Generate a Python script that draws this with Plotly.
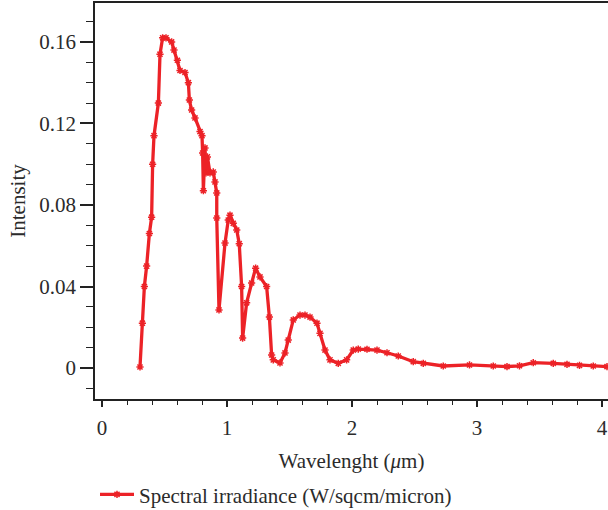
import plotly.graph_objects as go

wavelength = [0.304, 0.323, 0.339, 0.357, 0.379, 0.397, 0.405, 0.416, 0.451, 0.464, 0.485, 0.512,
              0.557, 0.576, 0.603, 0.624, 0.664, 0.691, 0.699, 0.717, 0.744, 0.784, 0.800, 0.805,
              0.811, 0.824, 0.832, 0.843, 0.864, 0.890, 0.904, 0.918, 0.918, 0.936, 0.984, 1.010,
              1.024, 1.050, 1.078, 1.098, 1.117, 1.125, 1.157, 1.197, 1.229, 1.264, 1.317, 1.339,
              1.357, 1.370, 1.424, 1.464, 1.490, 1.530, 1.584, 1.624, 1.664, 1.720, 1.744, 1.784,
              1.824, 1.890, 1.957, 2.010, 2.050, 2.120, 2.200, 2.280, 2.370, 2.490, 2.570, 2.730,
              2.940, 3.130, 3.240, 3.340, 3.450, 3.610, 3.720, 3.820, 3.930, 4.040, 4.100]
intensity = [0.0005, 0.022, 0.040, 0.050, 0.066, 0.074, 0.100, 0.114, 0.130, 0.154, 0.162, 0.162,
             0.160, 0.156, 0.151, 0.146, 0.145, 0.140, 0.1315, 0.1266, 0.1227, 0.116, 0.114, 0.1055,
             0.087, 0.108, 0.0957, 0.1036, 0.0957, 0.0962, 0.0913, 0.0859, 0.0736, 0.0285, 0.0613, 0.0726,
             0.075, 0.071, 0.0677, 0.061, 0.040, 0.0147, 0.032, 0.0417, 0.049, 0.0447, 0.040, 0.025,
             0.0064, 0.004, 0.0025, 0.0074, 0.0137, 0.0236, 0.026, 0.026, 0.025, 0.022, 0.017, 0.0088,
             0.004, 0.0023, 0.004, 0.0088, 0.0093, 0.0092, 0.0088, 0.0075, 0.0059, 0.0031, 0.0023, 0.001,
             0.0015, 0.001, 0.0007, 0.0011, 0.0026, 0.0023, 0.0018, 0.0013, 0.001, 0.0007, 0.0006]

x_ticks = [0, 1, 2, 3, 4]
y_ticks = [0, 0.04, 0.08, 0.12, 0.16]
y_ticklabels = ["0", "0.04", "0.08", "0.12", "0.16"]

RED = "#ec2227"
FONT = "Liberation Serif"
TXT = "#2b2b2b"
FS = 21

fig = go.Figure()
fig.add_trace(go.Scatter(
    x=wavelength, y=intensity, mode="lines+markers",
    name="Spectral irradiance (W/sqcm/micron)",
    line=dict(color=RED, width=3.3),
    marker=dict(symbol="asterisk-open", size=6, color=RED, line=dict(color=RED, width=1.5)),
    cliponaxis=True,
))

fig.update_layout(
    width=608, height=510,
    margin=dict(l=95, r=0, t=3, b=111, autoexpand=False),
    paper_bgcolor="white", plot_bgcolor="white",
    font=dict(family=FONT, size=FS, color=TXT),
    showlegend=True,
    legend=dict(orientation="h", x=0.0, xanchor="left", y=-0.19, yanchor="top",
                font=dict(family=FONT, size=FS, color=TXT), itemwidth=34,
                bgcolor="rgba(0,0,0,0)"),
    xaxis=dict(
        range=[-0.056, 4.048], tickvals=x_ticks, ticktext=[str(t) for t in x_ticks],
        showgrid=False, zeroline=False, showline=True, linecolor="#222", linewidth=1.5,
        mirror=True, ticks="outside", ticklen=6, tickcolor="#222", tickwidth=1.5,
        minor=dict(dtick=0.2, tick0=0, ticks="outside", ticklen=4, tickcolor="#222", tickwidth=1.2),
        tickfont=dict(family=FONT, size=FS, color=TXT),
        ticklabelstandoff=3,
        title=dict(text="Wavelenght (<i>μ</i>m)", font=dict(family=FONT, size=FS, color=TXT), standoff=14),
    ),
    yaxis=dict(
        range=[-0.0152, 0.1791], tickvals=y_ticks, ticktext=y_ticklabels,
        showgrid=False, zeroline=False, showline=True, linecolor="#222", linewidth=1.5,
        mirror=False, ticks="outside", ticklen=13, tickcolor="#222", tickwidth=1.5,
        minor=dict(dtick=0.01, tick0=0, ticks="outside", ticklen=7, tickcolor="#222", tickwidth=1.2),
        tickfont=dict(family=FONT, size=FS, color=TXT),
        title=dict(text="Intensity", font=dict(family=FONT, size=FS, color=TXT), standoff=8),
    ),
)

fig.write_html("out.html")
